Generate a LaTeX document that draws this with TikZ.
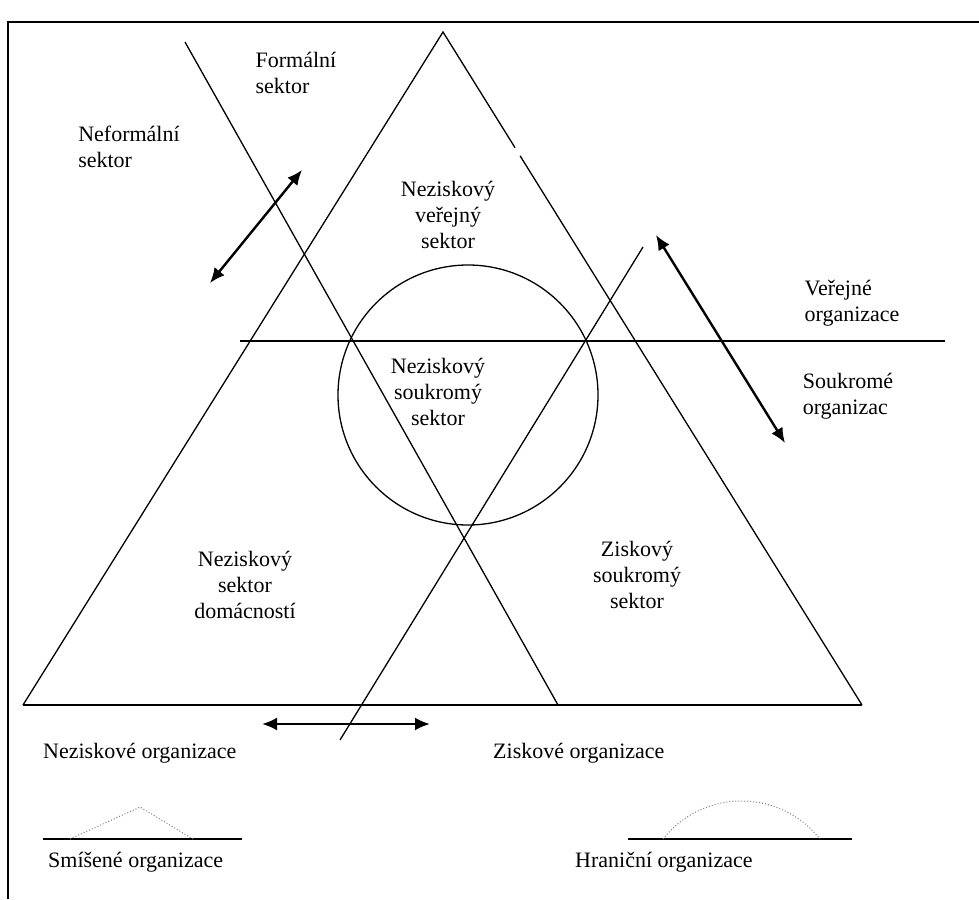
\documentclass[tikz,border=0pt]{standalone}
\usepackage{fontspec}
\setmainfont{Liberation Serif}
\usetikzlibrary{arrows.meta,calc}
\tikzset{
  txt/.style={font=\fontsize{22}{26}\selectfont,inner sep=0pt},
  dblarrow/.style={line width=2.4pt,{Latex[length=15pt,width=13pt]}-{Latex[length=15pt,width=13pt]}},
  hint/.style={gray,dotted,line width=1pt}
}
\begin{document}
\begin{tikzpicture}[x=1pt,y=-1pt]
   \useasboundingbox (0,0) rectangle (979,899);
   \draw[line width=2pt] (8,899) -- (8,22) -- (979,22);

   \coordinate (top) at (443,32);
   \coordinate (bl) at (23,705);
   \coordinate (br) at (862,705);
   \draw[line width=1.3pt] ($(top)!0.184!(br)$) -- (br);
   \draw[line width=1.3pt] ($(top)!0.172!(br)$) -- (top) -- (bl);
   \draw[line width=1.8pt] (bl) -- (br);

   \coordinate (a1) at (185,42);
   \coordinate (a2) at (558,705);
   \draw[line width=1.3pt] (a1) -- (a2);
   \coordinate (b1) at (340,740);
   \coordinate (b2) at (643,247);
   \draw[line width=1.3pt] (b1) -- (b2);
   \coordinate (h1) at (240,341);
   \coordinate (h2) at (945,341);
   \draw[line width=1.6pt] (h1) -- (h2);
   \node[circle,draw,line width=1.3pt,minimum size=260pt] (kruh) at (468,395) {};

   \coordinate (fl1) at (210,283);
   \coordinate (fl2) at (302,170);
   \draw[dblarrow] (fl1) -- (fl2);
   \coordinate (vs1) at (656,235);
   \coordinate (vs2) at (785,443);
   \draw[dblarrow] (vs1) -- (vs2);
   \coordinate (nz1) at (262,724);
   \coordinate (nz2) at (430,724);
   \draw[dblarrow] (nz1) -- (nz2);

   \node[txt,align=left] (formal) at (296,73) {Formální\\sektor};
   \node[txt,align=left] (neformal) at (129,147) {Neformální\\sektor};
   \node[txt,align=center] (nvs) at (448,215) {Neziskový\\veřejný\\sektor};
   \node[txt,align=center] (nss) at (438,392) {Neziskový\\soukromý\\sektor};
   \node[txt,align=center] (nsd) at (245,585) {Neziskový\\sektor\\domácností};
   \node[txt,align=center] (zss) at (637,575) {Ziskový\\soukromý\\sektor};
   \node[txt,align=left] (verejne) at (852,303) {Veřejné\\organizace};
   \node[txt,align=left] (soukrome) at (848,396) {Soukromé\\organizac};
   \node[txt,anchor=west] (nezisk) at (43,753) {Neziskové organizace};
   \node[txt,anchor=west] (zisk) at (493,753) {Ziskové organizace};

   \coordinate (sm1) at (43,839);
   \coordinate (sm2) at (242,839);
   \draw[line width=1.8pt] (sm1) -- (sm2);
   \draw[hint] (70,839) -- (140,807) -- (193,839);
   \node[txt,anchor=west] (smisene) at (48,862) {Smíšené organizace};

   \coordinate (hr1) at (628,839);
   \coordinate (hr2) at (852,839);
   \draw[line width=1.8pt] (hr1) -- (hr2);
   \draw[hint] (663,839) arc[start angle=-141.7,end angle=-38.3,radius=100];
   \node[txt,anchor=west] (hranicni) at (575,862) {Hraniční organizace};
\end{tikzpicture}
\end{document}
